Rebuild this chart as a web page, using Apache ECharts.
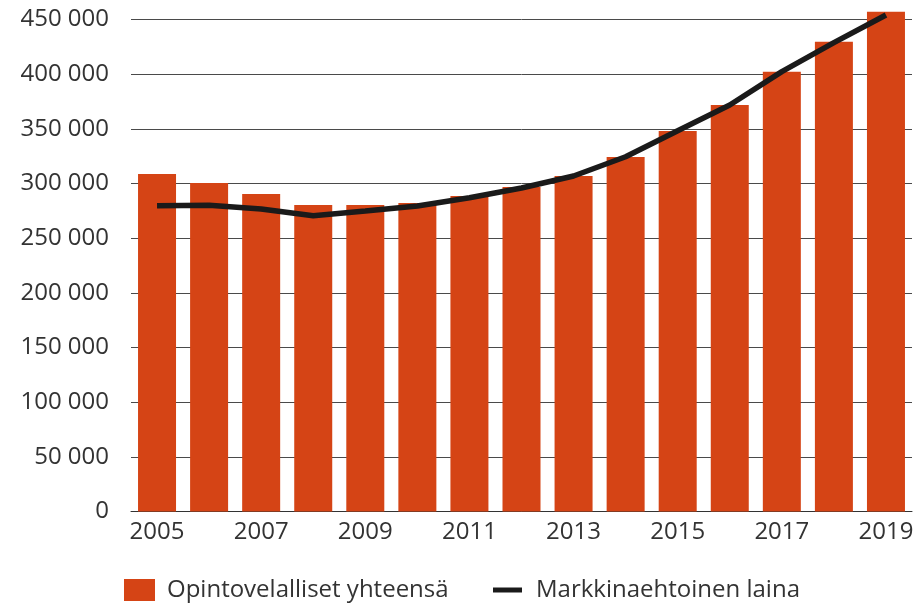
<!DOCTYPE html>
<html>
<head>
<meta charset="utf-8">
<script src="https://cdn.jsdelivr.net/npm/echarts@6/dist/echarts.min.js"></script>
<style>
  html, body { margin: 0; padding: 0; background: #fff; }
  #chart { width: 920px; height: 608px; }
</style>
</head>
<body>
<div id="chart"></div>
<script>
// vuodet
var years = ["2005", "2006", "2007", "2008", "2009", "2010", "2011", "2012",
  "2013", "2014", "2015", "2016", "2017", "2018", "2019"];
// Opintovelalliset yhteensä
var totalDebtors = [308700, 300500, 290400, 280300, 280300, 282100, 288500, 296800,
  306900, 324300, 348100, 371800, 402200, 429600, 457000];
// Markkinaehtoinen laina
var marketLoan = [279700, 280000, 276700, 270500, 274800, 279400, 287000, 295900,
  306900, 324500, 348300, 371800, 402300, 428800, 454100];
var yTicks = [0, 50000, 100000, 150000, 200000, 250000, 300000, 350000, 400000, 450000];

var barName = "Opintovelalliset yhteensä";
var lineName = "Markkinaehtoinen laina";
var font = "'Open Sans', sans-serif";

var myChart = echarts.init(document.getElementById("chart"));
var option = {
  animation: false,
  grid: {
    left: 131,
    right: 8,
    top: 19.5,
    bottom: 96.5
  },
  legend: [
    {
      data: [barName],
      left: 124,
      top: 578,
      padding: 0,
      icon: "rect",
      itemWidth: 31,
      itemHeight: 22,
      textStyle: { fontFamily: font, fontSize: 24, color: "#333", padding: [0, 0, 0, 7] }
    },
    {
      data: [{ name: lineName, icon: "rect" }],
      left: 493,
      top: 578,
      padding: 0,
      itemWidth: 29,
      itemHeight: 5,
      textStyle: { fontFamily: font, fontSize: 24, color: "#333", padding: [0, 0, 0, 9] }
    }
  ],
  xAxis: {
    type: "category",
    data: years,
    axisTick: { show: false },
    axisLine: { lineStyle: { color: "#333", width: 1 } },
    axisLabel: {
      interval: 1,
      margin: 9,
      fontFamily: font,
      fontSize: 24,
      color: "#333"
    }
  },
  yAxis: {
    type: "value",
    min: yTicks[0],
    max: yTicks[yTicks.length - 1],
    interval: 50000,
    axisLine: { show: false },
    axisTick: { show: false },
    splitLine: { lineStyle: { color: "#4a4a4a", width: 1 } },
    axisLabel: {
      margin: 22,
      fontFamily: font,
      fontSize: 24,
      color: "#333",
      formatter: function (v) {
        return String(v).replace(/\B(?=(\d{3})+(?!\d))/g, " ");
      }
    }
  },
  series: [
    {
      name: barName,
      type: "bar",
      data: totalDebtors,
      barWidth: 38,
      clip: false,
      itemStyle: { color: "#d54415" }
    },
    {
      name: lineName,
      type: "line",
      data: marketLoan,
      clip: false,
      symbol: "none",
      lineStyle: { color: "#1a1a1a", width: 5.5 },
      itemStyle: { color: "#1a1a1a" }
    }
  ]
};
myChart.setOption(option);
</script>
</body>
</html>
